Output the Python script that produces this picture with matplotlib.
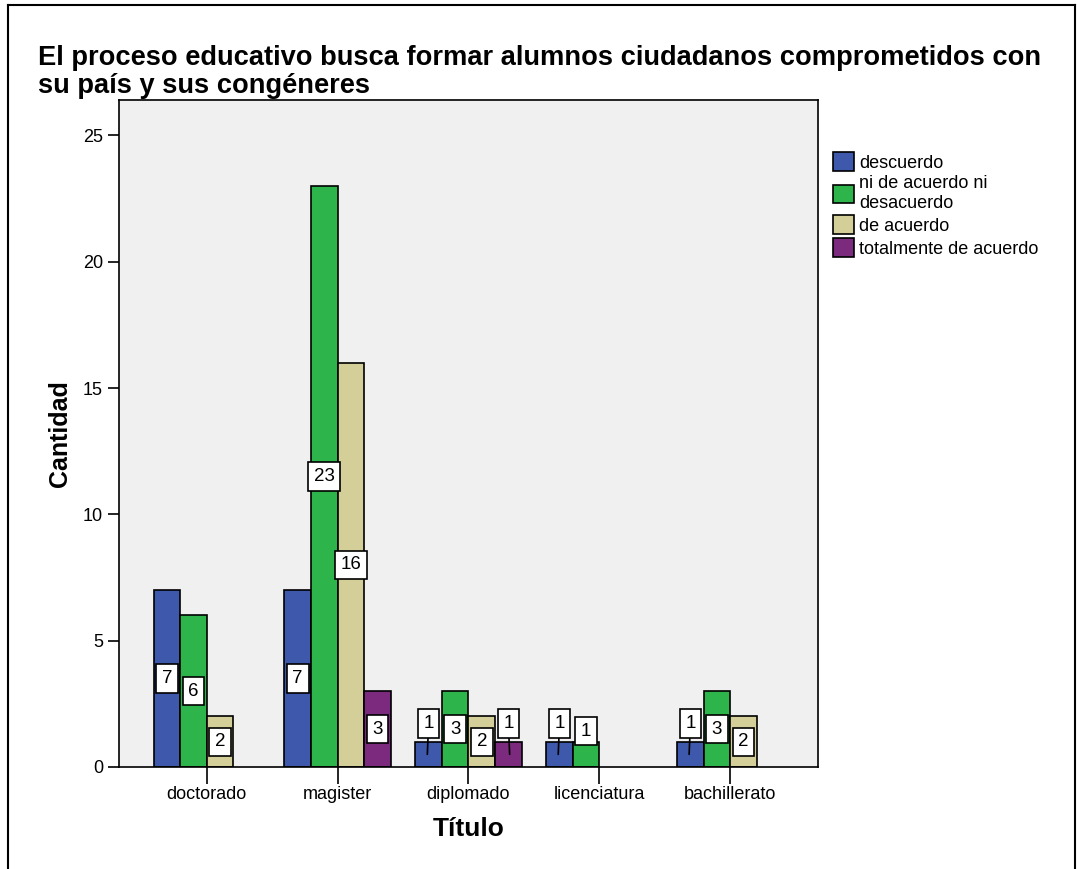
import matplotlib.pyplot as plt
import numpy as np
from matplotlib.patches import Patch
from matplotlib.lines import Line2D

plt.rcParams['font.family'] = ['Liberation Sans', 'DejaVu Sans']

categories = ['doctorado', 'magister', 'diplomado', 'licenciatura', 'bachillerato']
series_names = ['descuerdo', 'ni de acuerdo ni\ndesacuerdo', 'de acuerdo',
                'totalmente de acuerdo']
colors = ['#3e58ac', '#2db44a', '#d4cf98', '#7c2a7e']

descuerdo = [7, 7, 1, 1, 1]
ni_ni = [6, 23, 3, 1, 3]
de_acuerdo = [2, 16, 2, 0, 2]
totalmente = [0, 3, 1, 0, 0]
values = [descuerdo, ni_ni, de_acuerdo, totalmente]

fig = plt.figure(figsize=(10.77, 8.69), dpi=100)
ax = fig.add_axes([0.1105, 0.1174, 0.649, 0.7675])
ax.set_facecolor('#f0f0f0')

x = np.arange(len(categories))
w = 0.203
box = dict(boxstyle='square,pad=0.3', fc='white', ec='black', lw=1.2)
for i, (vals, c) in enumerate(zip(values, colors)):
    pos = x + (i - 1.5) * w
    vals = np.array(vals)
    keep = vals > 0
    ax.bar(pos[keep], vals[keep], width=w, color=c, edgecolor='black',
           linewidth=1.2, zorder=2)
    for p, v in zip(pos[keep], vals[keep]):
        if v >= 2 or i == 1:
            ly = v / 2 if v >= 2 else 1.42
            ax.text(p, ly, str(v), ha='center', va='center', fontsize=13.5,
                    zorder=4, bbox=box)
        else:
            # small bars: label lifted above with a leader line
            ax.annotate(str(v), xy=(p + 0.01 * (i == 3) - 0.01 * (i == 0), 0.5),
                        xytext=(p, 1.72), ha='center', va='center', fontsize=13.5,
                        zorder=4, bbox=box,
                        arrowprops=dict(arrowstyle='-', color='black', lw=1.2,
                                        shrinkA=0, shrinkB=0))

ax.set_xlim(-0.67, 4.67)
ax.set_ylim(0, 26.4)
ax.set_yticks([0, 5, 10, 15, 20, 25])
ax.set_xticks(x)
ax.set_xticklabels(categories, fontsize=13)
ax.tick_params(axis='y', labelsize=13, length=8, width=1.2, direction='out')
ax.tick_params(axis='x', length=12, width=1.2, direction='out', pad=2)
for s in ax.spines.values():
    s.set_linewidth(1.2)

ax.set_ylabel('Cantidad', fontsize=18, fontweight='bold', labelpad=8)
ax.set_xlabel('Título', fontsize=19, fontweight='bold', labelpad=10)

fig.text(38 / 1077, 1 - 72 / 869, 'El proceso educativo busca formar alumnos '
         'ciudadanos comprometidos con\nsu país y sus congéneres',
         fontsize=19.6, fontweight='bold', ha='left', va='center',
         linespacing=1.1)

handles = [Patch(facecolor=c, edgecolor='black', linewidth=1.2) for c in colors]
fig.legend(handles, series_names, loc='upper left',
           bbox_to_anchor=(826 / 1077, 1 - 145 / 869), frameon=False,
           fontsize=13, handlelength=1.15, handleheight=1.2,
           handletextpad=0.3, labelspacing=0.2, borderaxespad=0)

# outer frame
fig.add_artist(Line2D([8 / 1077, 8 / 1077], [0, 1 - 5 / 869], color='black',
                      lw=1.5, transform=fig.transFigure))
fig.add_artist(Line2D([8 / 1077, 1075 / 1077], [1 - 5 / 869, 1 - 5 / 869],
                      color='black', lw=1.5, transform=fig.transFigure))
fig.add_artist(Line2D([1075 / 1077, 1075 / 1077], [0, 1 - 5 / 869],
                      color='black', lw=1.5, transform=fig.transFigure))

fig.savefig('out.png', dpi=100)
